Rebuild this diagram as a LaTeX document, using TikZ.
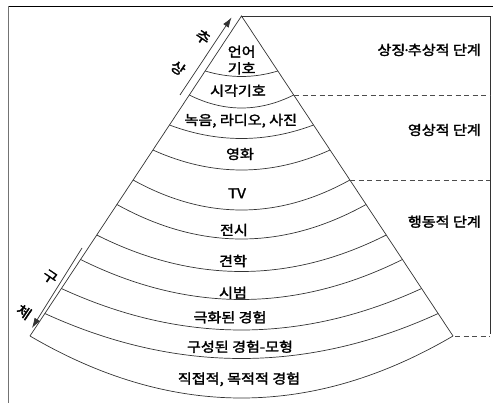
\documentclass[tikz,border=0pt]{standalone}
\usepackage{fontspec}
\setmainfont{Noto Sans CJK KR}[FakeStretch=1.12, FakeBold=2]
\usetikzlibrary{arrows.meta}
\tikzset{
    layer/.style={draw=black!80, line width=0.7pt},
    phase/.style={draw=black!70, line width=0.7pt, dash pattern=on 5pt off 3.5pt},
    band/.style={inner sep=0pt, align=center, font=\fontsize{13.5}{16.6}\selectfont},
    stage/.style={inner sep=0pt, anchor=east, font=\fontsize{13.5}{16.6}\selectfont},
    tilt/.style={inner sep=0pt, rotate=-34, font=\fontsize{14}{16}\selectfont},
}
\newcommand\bandline[2]{% #1 = y of both ends, #2 = dip in the middle
    \pgfmathsetmacro\hw{(#1-16)*0.661}%
    \pgfmathsetmacro\dip{#1+#2*4/3}%
    \draw[layer] (241.5-\hw,#1) .. controls (241.5-\hw/3,\dip) and (241.5+\hw/3,\dip) .. (241.5+\hw,#1);
}

\begin{document}
\begin{tikzpicture}[x=1pt,y=-1pt]
        \useasboundingbox (0,0) rectangle (493,403);
        % frame
        \draw[black, line width=0.7pt] (8,6) -- (493,6);
        \draw[black!55, line width=1.3pt] (8.5,6) -- (8.5,403);
        % cone
        \coordinate (apex) at (241.5,16);
        \coordinate (bl) at (30,336);
        \coordinate (br) at (453,336);
        \draw[layer] (bl) -- (apex) -- (br);
        \draw[layer] (apex) -- (490,16) -- (490,334);
        \bandline{71}{5.5}
        \bandline{95}{13}
        \bandline{125}{13.5}
        \bandline{150}{20}
        \bandline{180}{30}
        \bandline{204.5}{34.5}
        \bandline{235}{36.5}
        \bandline{259.5}{40}
        \bandline{288.5}{41.5}
        \bandline{313.5}{45}
        \bandline{336}{62}
        \draw[phase] (294,95) -- (490,95);
        \draw[phase] (350,180) -- (490,180);
        \draw[phase] (455,336) -- (490,336);
        % bands
        \node[band] (verbal) at (241.7,60) {언어\\기호};
        \node[band] (visual) at (238,90.7) {시각기호};
        \node[band] (recording) at (240.8,120.7) {녹음, 라디오, 사진};
        \node[band] (film) at (240,154) {영화};
        \node[band] (tv) at (237,193.3) {TV};
        \node[band] (exhibit) at (234,230) {전시};
        \node[band] (trip) at (233,261) {견학};
        \node[band] (demo) at (233,292.7) {시범};
        \node[band] (drama) at (230,317.3) {극화된 경험};
        \node[band] (contrived) at (240,346.7) {구성된 경험-모형};
        \node[band] (direct) at (239,379.3) {직접적, 목적적 경험};
        % stages
        \node[stage] (symbolic) at (481,50) {상징\kern-0.22em·\kern-0.22em추상적 단계};
        \node[stage] (iconic) at (481,130) {영상적 단계};
        \node[stage] (enactive) at (481,221.7) {행동적 단계};
        % arrows
        \coordinate (upfrom) at (180,95);
        \coordinate (upto) at (231.5,17.5);
        \coordinate (downfrom) at (82,248);
        \coordinate (downto) at (32,328);
        \draw[layer, -{Latex[length=10pt,width=6.5pt]}] (upfrom) -- (upto);
        \draw[layer, -{Latex[length=10pt,width=6.5pt]}] (downfrom) -- (downto);
        \node[tilt] (up1) at (203,37) {추};
        \node[tilt] (up2) at (178,68) {상};
        \node[tilt] (down1) at (50,277) {구};
        \node[tilt] (down2) at (24,312) {체};
\end{tikzpicture}
\end{document}
